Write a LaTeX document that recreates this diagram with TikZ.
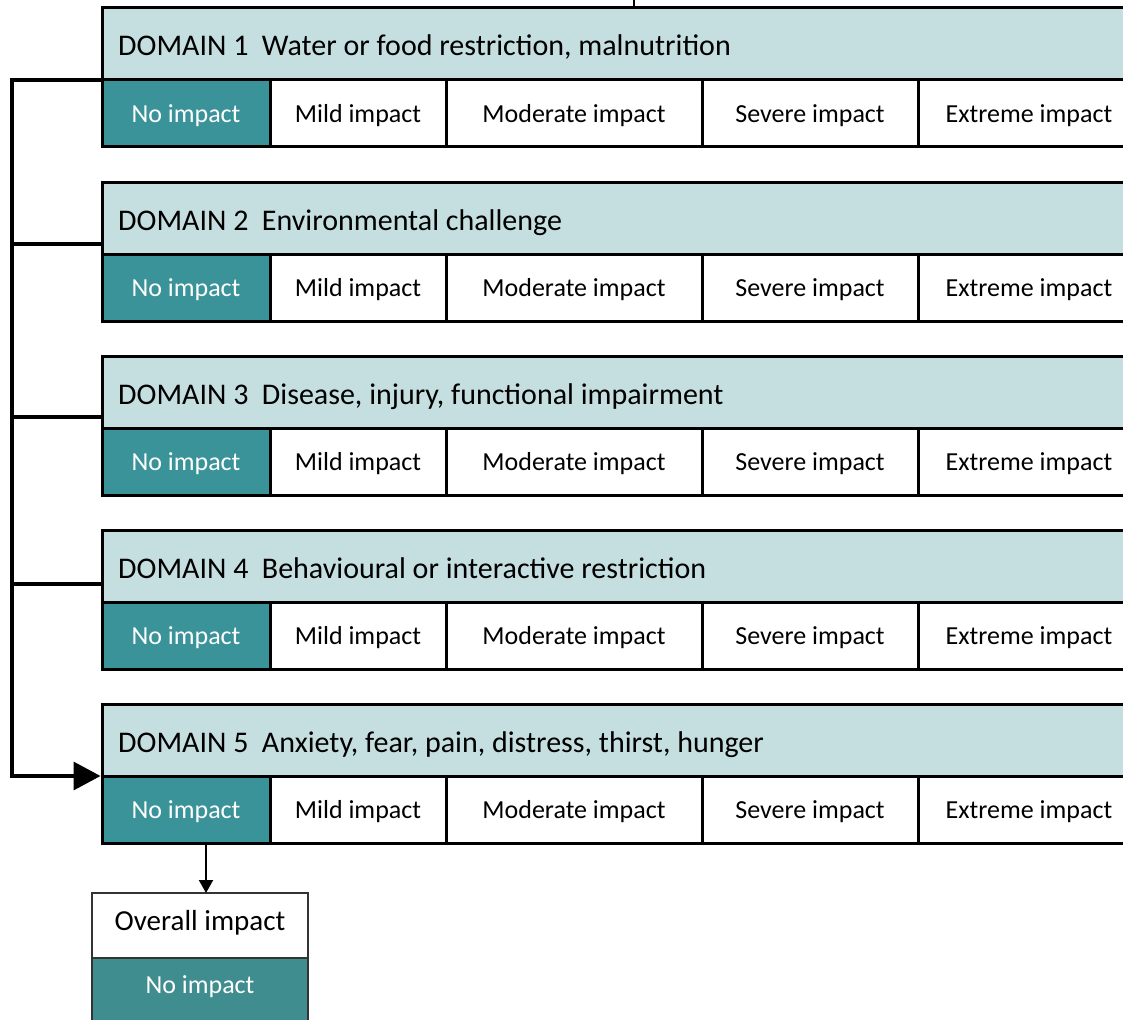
\documentclass[tikz,border=0pt]{standalone}
\usepackage{fontspec}
\setmainfont{Carlito}
\usetikzlibrary{arrows.meta,calc}
\definecolor{hdr}{HTML}{C5DFE1}
\definecolor{tealA}{HTML}{3A9399}
\definecolor{tealB}{HTML}{408D90}
\begin{document}
\begin{tikzpicture}[x=1pt,y=-1pt,
  hbox/.style={draw=black,line width=3pt,fill=hdr,minimum width=1040pt,minimum height=72pt,
    anchor=north west,inner sep=0pt,outer sep=0pt},
  htext/.style={anchor=west,inner sep=0pt,font=\fontsize{30}{35}\selectfont,text height=24pt,text depth=0pt},
  cellbox/.style={draw=black,line width=3pt,fill=white,minimum height=67pt,anchor=north west,
    inner sep=0pt,outer sep=0pt,font=\fontsize{26}{31}\selectfont,text height=21pt,text depth=3pt},
  nobox/.style={cellbox,fill=tealA,text=white},
  ovbox/.style={draw=black!80,line width=2pt,minimum width=216pt,anchor=north west,
    inner sep=0pt,outer sep=0pt,font=\fontsize{26}{31}\selectfont},
  bracket/.style={line width=3.5pt,line cap=rect,line join=miter},
  dnarrow/.style={line width=2pt,-{Triangle[length=13pt,width=14pt]}}]
\useasboundingbox (0,0) rectangle (1123,1019);
\clip (0,0) rectangle (1123,1019);
\foreach \k/\t in {1/{Water or food restriction, malnutrition},
                   2/{Environmental challenge},
                   3/{Disease, injury, functional impairment},
                   4/{Behavioural or interactive restriction},
                   5/{Anxiety, fear, pain, distress, thirst, hunger}}{
  \pgfmathsetmacro\ytop{8+174*(\k-1)}
  \node[hbox] (h\k) at (102,\ytop) {};
  \node[htext] (t\k) at ($(h\k.west)+(16,0)$) {DOMAIN \k\hspace{0.45em}\t};
  \node[nobox,minimum width=168pt] (c\k-1) at (102,\ytop+72) {No impact};
  \node[cellbox,minimum width=176pt] (c\k-2) at (270,\ytop+72) {Mild impact};
  \node[cellbox,minimum width=256pt] (c\k-3) at (446,\ytop+72) {Moderate impact};
  \node[cellbox,minimum width=216pt] (c\k-4) at (702,\ytop+72) {Severe impact};
  \node[cellbox,minimum width=222pt] (c\k-5) at (918,\ytop+72) {Extreme impact};
}
% overall impact box
\node[ovbox,fill=white,minimum height=65pt,font=\fontsize{29}{34}\selectfont,text height=22pt,text depth=12pt] (ov) at (92,893) {Overall impact};
\node[ovbox,fill=tealB,text=white,minimum height=72pt,text height=21pt,text depth=23pt] (ovn) at (92,958) {No impact};
% bracket connecting the domains
\coordinate (sp1) at (12,80);
\coordinate (sp5) at (12,776);
\coordinate (b2) at ($(h2.south west)+(0,-10)$);
\coordinate (b3) at ($(h3.south west)+(0,-11)$);
\coordinate (b4) at ($(h4.south west)+(0,-18)$);
\draw[bracket,-{Triangle[length=27pt,width=28pt]},shorten >=1.5pt] (h1.south west) -- (sp1) -- (sp5) -- (h5.south west);
\draw[bracket] (sp1 |- b2) -- (b2);
\draw[bracket] (sp1 |- b3) -- (b3);
\draw[bracket] (sp1 |- b4) -- (b4);
% arrow to overall impact
\coordinate (a1) at ($(c5-1.south)+(20,2)$);
\draw[dnarrow] (a1) -- (a1 |- ov.north);
% fragment at the top edge
\draw[line width=2.5pt] (634,0) -- (634,6);
\end{tikzpicture}
\end{document}
